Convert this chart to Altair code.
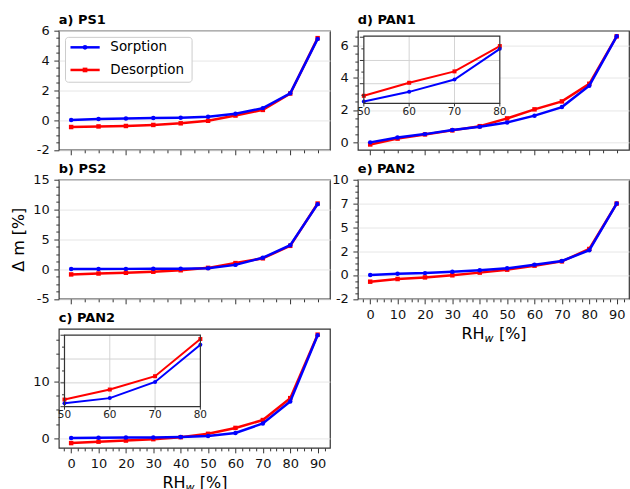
import altair as alt
import numpy as np
import pandas as pd

# ---------------- data ----------------
RH = [0, 10, 20, 30, 40, 50, 60, 70, 80, 90]
SERIES = ["Sorption", "Desorption"]

PS1_SORPTION = [0.0, 0.07, 0.10, 0.13, 0.16, 0.22, 0.42, 0.80, 1.80, 5.45]
PS1_DESORPTION = [-0.47, -0.43, -0.40, -0.33, -0.22, -0.05, 0.30, 0.68, 1.78, 5.50]
PS2_SORPTION = [0.0, 0.02, 0.03, 0.05, 0.07, 0.15, 0.70, 1.90, 4.00, 10.90]
PS2_DESORPTION = [-0.90, -0.75, -0.62, -0.45, -0.20, 0.20, 1.00, 1.80, 3.90, 11.00]
PAN2C_SORPTION = [0.0, 0.05, 0.08, 0.10, 0.20, 0.35, 0.90, 2.60, 6.50, 18.30]
PAN2C_DESORPTION = [-0.90, -0.65, -0.45, -0.20, 0.15, 0.75, 1.80, 3.20, 7.10, 18.40]
PAN1_SORPTION = [0.0, 0.30, 0.51, 0.77, 0.97, 1.23, 1.65, 2.18, 3.50, 6.55]
PAN1_DESORPTION = [-0.13, 0.23, 0.49, 0.74, 1.00, 1.48, 2.04, 2.53, 3.62, 6.55]
PAN2E_SORPTION = [0.0, 0.14, 0.20, 0.35, 0.50, 0.70, 1.08, 1.47, 2.60, 7.50]
PAN2E_DESORPTION = [-0.70, -0.42, -0.25, -0.03, 0.25, 0.56, 0.98, 1.43, 2.73, 7.50]

TITLES = ["a) PS1", "b) PS2", "c) PAN2", "d) PAN1", "e) PAN2"]
X_TICKS_COARSE = [0, 20, 40, 60, 80]
X_TICKS_FINE = [0, 10, 20, 30, 40, 50, 60, 70, 80, 90]
INSET_X_TICKS = [50, 60, 70, 80]
Y_TICKS_A = [-2, 0, 2, 4, 6]
Y_TICKS_B = [-5, 0, 5, 10, 15]
Y_TICKS_C = [0, 10]
Y_TICKS_D = [0, 2, 4, 6]
Y_TICKS_E = [-2.5, 0, 2.5, 5, 7.5, 10]
INSET_C_GRID = [2.5, 5]
INSET_C_YTICKS = [0, 2.5, 5, 7.5]
INSET_C_YMINOR = [1.25, 3.75, 6.25]
INSET_D_GRID = [2, 3]
INSET_D_YTICKS = [2, 3, 4]
INSET_D_YMINOR = [1.5, 2.5, 3.5]

# ---------------- style ----------------
W, H = 272, 119.5
BLUE, RED = "#0000ff", "#ff0000"
FONT = "DejaVu Sans"
FRAME = "#333333"
GRID = "#e6e6e6"
XDOM = [-4.5, 94.5]
TRUNC = "(datum.value < 0 ? '-' : '') + floor(abs(datum.value) + 1e-9)"
ONE = pd.DataFrame({"k": [0]})


def minor_values(lo, hi, step, majors):
    start = np.ceil(lo / step) * step
    vals = np.arange(start, hi + 1e-9, step)
    return [float(round(v, 4)) for v in vals if all(abs(v - m) > 1e-6 for m in majors)]


def inset_layer(sorp, desorp, ydom, ygrid, yticks, yminor, xr, yr):
    ixs = alt.Scale(domain=[50, 80], range=xr, nice=False, zero=False)
    iys = alt.Scale(domain=ydom, range=yr, nice=False, zero=False)
    sel = slice(5, 9)
    ds = pd.DataFrame({"rh": RH[sel], "dm": sorp[sel]})
    dd = pd.DataFrame({"rh": RH[sel], "dm": desorp[sel]})
    enc = dict(x=alt.X("rh:Q", scale=ixs, axis=None), y=alt.Y("dm:Q", scale=iys, axis=None))
    boxdf = pd.DataFrame({"x": [50], "x2": [80], "y": [ydom[0]], "y2": [ydom[1]]})
    box_enc = dict(x=alt.X("x:Q", scale=ixs, axis=None), x2="x2:Q",
                   y=alt.Y("y:Q", scale=iys, axis=None), y2="y2:Q")
    box = alt.Chart(boxdf).mark_rect(fill="white").encode(**box_enc)
    border = alt.Chart(boxdf).mark_rect(fillOpacity=0, stroke=FRAME, strokeWidth=1.2).encode(**box_enc)
    vg = pd.DataFrame({"x": [60, 70], "y": [ydom[0]] * 2, "y2": [ydom[1]] * 2})
    vgrid = alt.Chart(vg).mark_rule(color="#d4d4d4", strokeWidth=1).encode(
        x=alt.X("x:Q", scale=ixs, axis=None), y=alt.Y("y:Q", scale=iys, axis=None), y2="y2:Q")
    hg = pd.DataFrame({"y": ygrid, "x": [50] * len(ygrid), "x2": [80] * len(ygrid)})
    hgrid = alt.Chart(hg).mark_rule(color="#d4d4d4", strokeWidth=1).encode(
        y=alt.Y("y:Q", scale=iys, axis=None), x=alt.X("x:Q", scale=ixs, axis=None), x2="x2:Q")
    yt = [v for v in yticks if ydom[0] <= v <= ydom[1]]
    ymaj = alt.Chart(pd.DataFrame({"y": yt})).mark_rule(color=FRAME, strokeWidth=1).encode(
        y=alt.Y("y:Q", scale=iys, axis=None), x=alt.value(xr[0] - 4), x2=alt.value(xr[0]))
    ymin = alt.Chart(pd.DataFrame({"y": yminor})).mark_rule(color=FRAME, strokeWidth=1).encode(
        y=alt.Y("y:Q", scale=iys, axis=None), x=alt.value(xr[0] - 2.5), x2=alt.value(xr[0]))
    xmaj = alt.Chart(pd.DataFrame({"x": INSET_X_TICKS})).mark_rule(color=FRAME, strokeWidth=1).encode(
        x=alt.X("x:Q", scale=ixs, axis=None), y=alt.value(yr[0]), y2=alt.value(yr[0] + 3))
    labels = alt.Chart(pd.DataFrame({"x": INSET_X_TICKS})).mark_text(
        fontSize=10.5, baseline="top", color="#222222", font=FONT).encode(
        x=alt.X("x:Q", scale=ixs, axis=None), y=alt.value(yr[0] + 3.5),
        text=alt.Text("x:Q", format="d"))
    return alt.layer(
        box, vgrid, hgrid,
        alt.Chart(dd).mark_line(color=RED, strokeWidth=2).encode(**enc),
        alt.Chart(dd).mark_point(color=RED, filled=True, shape="square", size=16, opacity=1).encode(**enc),
        alt.Chart(ds).mark_line(color=BLUE, strokeWidth=2).encode(**enc),
        alt.Chart(ds).mark_point(color=BLUE, filled=True, shape="circle", size=16, opacity=1).encode(**enc),
        border, ymaj, ymin, xmaj, labels,
    )


def legend_layers():
    box = alt.Chart(ONE).mark_rect(fill="white", stroke="#cccccc", strokeWidth=1, cornerRadius=3).encode(
        x=alt.value(6.7), x2=alt.value(133.7), y=alt.value(6.7), y2=alt.value(51.7))
    out = [box]
    for label, color, shape, yc in [(SERIES[0], BLUE, "circle", 16.7), (SERIES[1], RED, "square", 39.4)]:
        out.append(alt.Chart(ONE).mark_rule(color=color, strokeWidth=2.5).encode(
            x=alt.value(11.7), x2=alt.value(41), y=alt.value(yc)))
        out.append(alt.Chart(ONE).mark_point(color=color, filled=True, shape=shape, size=22, opacity=1).encode(
            x=alt.value(26.3), y=alt.value(yc)))
        out.append(alt.Chart(ONE).mark_text(align="left", baseline="middle", fontSize=13.5, font=FONT,
                                            color="black").encode(
            x=alt.value(51.7), y=alt.value(yc), text=alt.value(label)))
    return out


def xtitle_layers():
    yb = H + 40.5
    return [
        alt.Chart(ONE).mark_text(align="left", baseline="alphabetic", fontSize=16, font=FONT, color="black").encode(
            x=alt.value(W / 2 - 32), y=alt.value(yb), text=alt.value("RH")),
        alt.Chart(ONE).mark_text(align="left", baseline="alphabetic", fontSize=11, font=FONT, fontStyle="italic",
                                 color="black").encode(
            x=alt.value(W / 2 - 9), y=alt.value(yb + 3), text=alt.value("w")),
        alt.Chart(ONE).mark_text(align="left", baseline="alphabetic", fontSize=16, font=FONT, color="black").encode(
            x=alt.value(W / 2 + 5.5), y=alt.value(yb), text=alt.value("[%]")),
    ]


def panel(title, sorp, desorp, ydom, yticks, ystep, fine_x, ytitle=None, inset=None, legend=False):
    xs = alt.Scale(domain=XDOM, nice=False, zero=False)
    ys = alt.Scale(domain=ydom, nice=False, zero=False)
    xmajor = X_TICKS_FINE if fine_x else X_TICKS_COARSE
    xstep = 2.5 if fine_x else 5
    xaxis = alt.Axis(orient="bottom", values=xmajor, labels=fine_x, format="d", tickSize=5, domain=False,
                     grid=False, title=None, labelPadding=4.5)
    ykw = dict(orient="left", values=yticks, labelExpr=TRUNC, tickSize=5, domain=False, grid=True,
               gridColor=GRID, gridWidth=1, labelPadding=4.6)
    if ytitle:
        ykw.update(title=ytitle, titleFontSize=16, titleFontWeight="normal", titlePadding=6.5, titleFont=FONT,
                   titleColor="black")
    else:
        ykw["title"] = None
    yaxis = alt.Axis(**ykw)
    enc = dict(x=alt.X("rh:Q", scale=xs, axis=xaxis), y=alt.Y("dm:Q", scale=ys, axis=yaxis))
    ds = pd.DataFrame({"rh": RH, "dm": sorp})
    dd = pd.DataFrame({"rh": RH, "dm": desorp})
    main = alt.layer(
        alt.Chart(dd).mark_line(color=RED, strokeWidth=2.5).encode(**enc),
        alt.Chart(dd).mark_point(color=RED, filled=True, shape="square", size=20, opacity=1).encode(**enc),
        alt.Chart(ds).mark_line(color=BLUE, strokeWidth=2.5).encode(**enc),
        alt.Chart(ds).mark_point(color=BLUE, filled=True, shape="circle", size=20, opacity=1).encode(**enc),
    )
    minor = alt.Chart(ds).mark_point(opacity=0).encode(
        x=alt.X("rh:Q", scale=xs, axis=alt.Axis(orient="bottom", values=minor_values(XDOM[0], XDOM[1], xstep, xmajor),
                                                labels=False, tickSize=3, domain=False, grid=False, title=None)),
        y=alt.Y("dm:Q", scale=ys, axis=alt.Axis(orient="left", values=minor_values(ydom[0], ydom[1], ystep, yticks),
                                                labels=False, tickSize=3, domain=False, grid=False, title=None)),
    )
    layers = [main, minor]
    if inset is not None:
        layers.append(inset)
    if legend:
        layers += legend_layers()
    if fine_x:
        layers += xtitle_layers()
    layers.append(alt.Chart(ONE).mark_text(align="left", baseline="alphabetic", fontSize=13, fontWeight="bold",
                                           font=FONT, color="black").encode(
        x=alt.value(0), y=alt.value(-6.6), text=alt.value(title)))
    return alt.layer(*layers).resolve_scale(x="independent", y="independent").properties(width=W, height=H)


pa = panel(TITLES[0], PS1_SORPTION, PS1_DESORPTION, [-2, 6], Y_TICKS_A, 0.5, False, legend=True)
pb = panel(TITLES[1], PS2_SORPTION, PS2_DESORPTION, [-5, 15], Y_TICKS_B, 1.25, False, ytitle="Δ m [%]")
pc = panel(TITLES[2], PAN2C_SORPTION, PAN2C_DESORPTION, [-1.75, 19.45], Y_TICKS_C, 2.5, True,
           inset=inset_layer(PAN2C_SORPTION, PAN2C_DESORPTION, [0, 7.5], INSET_C_GRID, INSET_C_YTICKS,
                             INSET_C_YMINOR, [5.7, 142], [78.2, 6.5]))
pd_ = panel(TITLES[3], PAN1_SORPTION, PAN1_DESORPTION, [-0.46, 6.9], Y_TICKS_D, 0.5, False,
            inset=inset_layer(PAN1_SORPTION, PAN1_DESORPTION, [1.15, 4.05], INSET_D_GRID, INSET_D_YTICKS,
                              INSET_D_YMINOR, [6, 142.4], [73, 5.4]))
pe = panel(TITLES[4], PAN2E_SORPTION, PAN2E_DESORPTION, [-2.5, 10], Y_TICKS_E, 0.625, True)

chart = alt.concat(pa, pd_, pb, pe, pc, columns=2, spacing={"row": 29.5, "column": 28}, bounds="flush").properties(
    padding={"left": 9, "top": 12, "right": 0, "bottom": 0}, background="white"
).configure_view(stroke=FRAME, strokeWidth=1.2).configure_axis(
    labelFont=FONT, labelFontSize=13, labelColor="#111111", tickColor="#333333", tickWidth=1
)

chart.save("out.html", embed_options={"renderer": "svg", "actions": False})
